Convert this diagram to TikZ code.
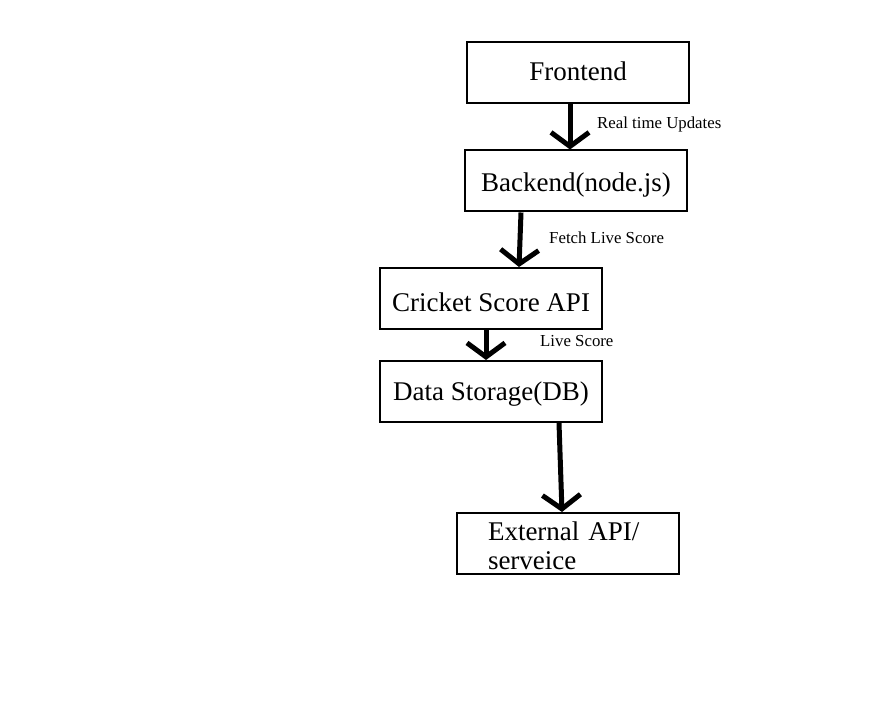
\documentclass[tikz,border=0pt]{standalone}
\usepackage{fontspec}
\setmainfont{Liberation Serif}
\usetikzlibrary{arrows.meta}
\begin{document}
\begin{tikzpicture}[x=1pt,y=-1pt,
  box/.style={draw, line width=2pt, minimum width=222pt, minimum height=61pt, inner sep=0pt,
    text height=15pt+#1, text depth=15pt-#1, font=\fontsize{27}{29.3}\selectfont},
  flow/.style={line width=5pt, -{Straight Barb[length=14pt,width=38pt,line width=5pt]}},
  lbl/.style={anchor=base west, inner sep=0pt, font=\fontsize{16.8}{19}\selectfont}]
\useasboundingbox (0,0) rectangle (885,708);
\node[box=8pt] (fe) at (578,72.5) {Frontend};
\node[box=10.7pt] (be) at (576,181) {Backend(node.js)};
\node[box=13.2pt] (cs) at (491,298.5) {Cricket Score API};
\node[box=8.5pt] (ds) at (491,391.5) {Data Storage(DB)};
\node[box=-3.5pt, align=left, text width=160pt, inner xsep=31pt] (ex) at (568,543.5) {External API/\\serveice};
\draw[flow] (fe.south -| 570,0) -- (be.north -| 570,0);
\draw[flow] (be.south -| 521,0) -- (cs.north -| 519,0);
\draw[flow] (cs.south -| 486,0) -- (ds.north -| 486,0);
\draw[flow] (ds.south -| 559,0) -- (ex.north -| 562,0);
\node[lbl] (l1) at (597,128.3) {Real time Updates};
\node[lbl] (l2) at (549,244) {Fetch Live Score};
\node[lbl] (l3) at (540,346.7) {Live Score};
\end{tikzpicture}
\end{document}
